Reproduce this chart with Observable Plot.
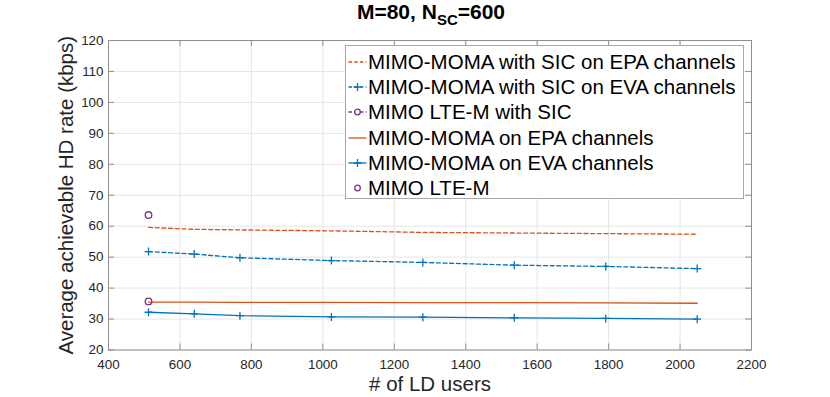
<!DOCTYPE html>
<html>
<head>
<meta charset="utf-8">
<script src="https://cdn.jsdelivr.net/npm/d3@7"></script>
<script src="https://cdn.jsdelivr.net/npm/@observablehq/plot@0.6"></script>
<style>
  html, body { margin: 0; padding: 0; background: white; }
  #wrap { position: relative; width: 830px; height: 397px; font-family: "Liberation Sans", Arial, sans-serif; }
  #title { position: relative; width: 862px; height: 30px; text-align: center; font-weight: bold; font-size: 21px; line-height: 24px; color: #000; }
  #title sub { font-size: 15px; vertical-align: -6px; line-height: 0; }
  #legend { position: absolute; left: 345px; top: 45px; width: 399px; height: 154px; background: white; border: 1px solid #a8a8a8; box-sizing: border-box; padding-top: 3px; }
  .row { display: flex; align-items: center; height: 25.3px; font-size: 20.5px; color: #000; white-space: nowrap; }
  .row svg { flex: none; margin-left: 2px; margin-right: 1px; }
</style>
</head>
<body>
<div id="wrap">
  <div id="title">M=80, N<sub>SC</sub>=600</div>
  <div id="chart"></div>
  <div id="legend"></div>
</div>
<script>
// ---- data ----
const users = [512, 640, 768, 1024, 1280, 1536, 1792, 2048];
const momaSicEPA = [59.6, 59.0, 58.8, 58.5, 58.0, 57.8, 57.6, 57.4];
const momaSicEVA = [51.8, 51.0, 49.8, 48.9, 48.3, 47.4, 47.0, 46.3];
const lteSicUsers = [512];
const lteSic = [63.6];
const momaEPA = [35.5, 35.5, 35.4, 35.4, 35.3, 35.3, 35.2, 35.1];
const momaEVA = [32.2, 31.7, 31.1, 30.7, 30.6, 30.4, 30.2, 29.95];
const lteUsers = [512];
const lte = [35.7];
const seriesNames = [
  "MIMO-MOMA with SIC on EPA channels",
  "MIMO-MOMA with SIC on EVA channels",
  "MIMO LTE-M with SIC",
  "MIMO-MOMA on EPA channels",
  "MIMO-MOMA on EVA channels",
  "MIMO LTE-M"
];
const xTicks = [400, 600, 800, 1000, 1200, 1400, 1600, 1800, 2000, 2200];
const yTicks = [20, 30, 40, 50, 60, 70, 80, 90, 100, 110, 120];
const xLabel = "# of LD users";
const yLabel = "Average achievable HD rate (kbps)";

// ---- styles ----
const ORANGE = "#D95319", BLUE = "#0072BD", PURPLE = "#7E2F8E";
const DASH = "4,2.7";
const LW = 1.3;

const toRows = (xs, ys) => xs.map((x, i) => ({x, y: ys[i]}));
const plusSymbol = {
  draw(ctx, size) {
    const r = Math.sqrt(size / Math.PI);
    ctx.moveTo(-r, 0); ctx.lineTo(r, 0);
    ctx.moveTo(0, -r); ctx.lineTo(0, r);
  }
};

const W = 830, H = 367;
const mL = 108, mR = 79, mT = 10, mB = 47.5;
const pw = W - mL - mR, ph = H - mT - mB;
const TICK = 6;

const sicEPA = toRows(users, momaSicEPA);
const sicEVA = toRows(users, momaSicEVA);
const lteS = toRows(lteSicUsers, lteSic);
const epa = toRows(users, momaEPA);
const eva = toRows(users, momaEVA);
const lteP = toRows(lteUsers, lte);

const chart = Plot.plot({
  width: W, height: H,
  marginLeft: mL, marginRight: mR, marginTop: mT, marginBottom: mB,
  style: {fontFamily: "'Liberation Sans', Arial, sans-serif", fontSize: "13.4px", color: "#262626", background: "white", overflow: "visible"},
  x: {domain: [400, 2200]},
  y: {domain: [20, 120]},
  marks: [
    Plot.gridX(xTicks, {stroke: "#e6e6e6", strokeOpacity: 1}),
    Plot.gridY(yTicks, {stroke: "#e6e6e6", strokeOpacity: 1}),
    Plot.axisX({ticks: xTicks, tickSize: 0, tickPadding: 9, label: null, fill: "#262626", tickFormat: d => String(d)}),
    Plot.axisY({ticks: yTicks, tickSize: 0, tickPadding: 5, label: null, fill: "#262626", tickFormat: d => String(d)}),
    Plot.frame({stroke: "#8f8f8f", strokeWidth: 1}),
    Plot.tickX(xTicks, {x: d => d, stroke: "#8f8f8f", insetTop: ph - TICK}),
    Plot.tickX(xTicks, {x: d => d, stroke: "#8f8f8f", insetBottom: ph - TICK}),
    Plot.tickY(yTicks, {y: d => d, stroke: "#8f8f8f", insetRight: pw - TICK}),
    Plot.tickY(yTicks, {y: d => d, stroke: "#8f8f8f", insetLeft: pw - TICK}),
    Plot.line(sicEPA, {x: "x", y: "y", stroke: ORANGE, strokeWidth: LW, strokeDasharray: DASH}),
    Plot.line(sicEVA, {x: "x", y: "y", stroke: BLUE, strokeWidth: LW, strokeDasharray: DASH}),
    Plot.dot(sicEVA, {x: "x", y: "y", symbol: plusSymbol, r: 4, fill: "none", stroke: BLUE, strokeWidth: LW}),
    Plot.dot(lteS, {x: "x", y: "y", symbol: "circle", r: 3.3, fill: "none", stroke: PURPLE, strokeWidth: LW}),
    Plot.line(epa, {x: "x", y: "y", stroke: ORANGE, strokeWidth: LW}),
    Plot.line(eva, {x: "x", y: "y", stroke: BLUE, strokeWidth: LW}),
    Plot.dot(eva, {x: "x", y: "y", symbol: plusSymbol, r: 4, fill: "none", stroke: BLUE, strokeWidth: LW}),
    Plot.dot(lteP, {x: "x", y: "y", symbol: "circle", r: 3.3, fill: "none", stroke: PURPLE, strokeWidth: LW}),
    Plot.text([xLabel], {text: d => d, frameAnchor: "bottom", dy: 34.5, fontSize: 20.5, fill: "#262626", lineAnchor: "middle", textAnchor: "middle"}),
    Plot.text([yLabel], {text: d => d, frameAnchor: "left", dx: -42, rotate: -90, fontSize: 20.5, fill: "#262626", lineAnchor: "middle", textAnchor: "middle"})
  ]
});
document.getElementById("chart").appendChild(chart);

// ---- legend ----
const legendSpec = [
  {color: ORANGE, dash: DASH, line: true, marker: null},
  {color: BLUE, dash: DASH, line: true, marker: "plus"},
  {color: PURPLE, dash: DASH, line: true, marker: "circle"},
  {color: ORANGE, dash: null, line: true, marker: null},
  {color: BLUE, dash: null, line: true, marker: "plus"},
  {color: PURPLE, dash: null, line: false, marker: "circle"}
];
const legend = document.getElementById("legend");
seriesNames.forEach((name, i) => {
  const s = legendSpec[i];
  const row = document.createElement("div");
  row.className = "row";
  const ns = "http://www.w3.org/2000/svg";
  const svg = document.createElementNS(ns, "svg");
  svg.setAttribute("width", 19); svg.setAttribute("height", 12);
  if (s.line) {
    const l = document.createElementNS(ns, "line");
    l.setAttribute("x1", 0.5); l.setAttribute("x2", 18.5); l.setAttribute("y1", 6); l.setAttribute("y2", 6);
    l.setAttribute("stroke", s.color); l.setAttribute("stroke-width", LW);
    if (s.dash) l.setAttribute("stroke-dasharray", "3.5,2.2");
    svg.appendChild(l);
  }
  if (s.marker === "plus") {
    const p = document.createElementNS(ns, "path");
    p.setAttribute("d", "M5.5,6H13.5M9.5,2V10");
    p.setAttribute("stroke", s.color); p.setAttribute("stroke-width", LW); p.setAttribute("fill", "none");
    svg.appendChild(p);
  } else if (s.marker === "circle") {
    const c = document.createElementNS(ns, "circle");
    c.setAttribute("cx", 9.5); c.setAttribute("cy", 6); c.setAttribute("r", 2.8);
    c.setAttribute("stroke", s.color); c.setAttribute("stroke-width", LW); c.setAttribute("fill", "white");
    svg.appendChild(c);
  }
  row.appendChild(svg);
  const t = document.createElement("span");
  t.textContent = name;
  row.appendChild(t);
  legend.appendChild(row);
});
</script>
</body>
</html>
